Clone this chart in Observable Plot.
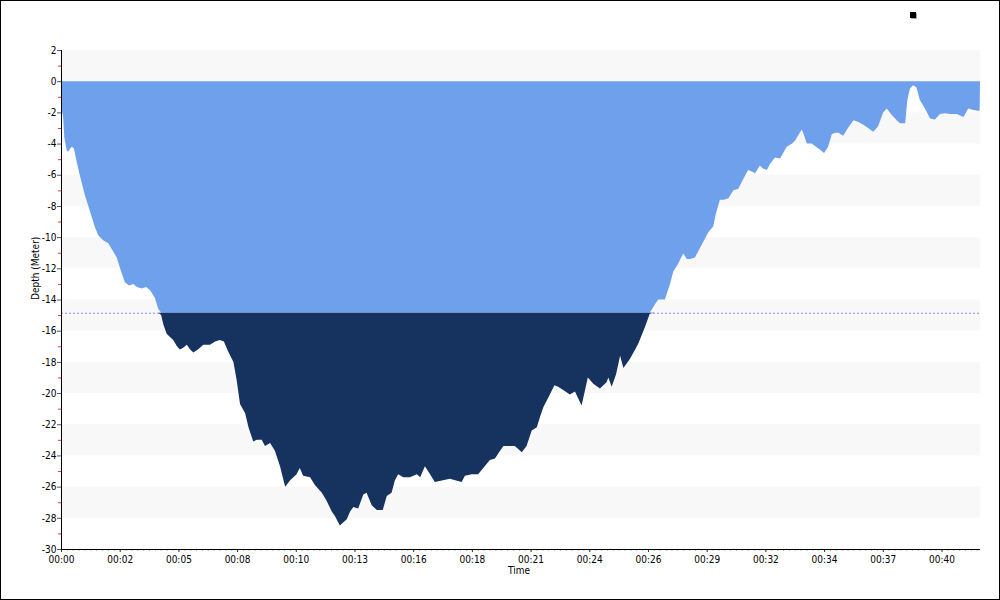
<!DOCTYPE html>
<html><head><meta charset="utf-8">
<script src="https://cdn.jsdelivr.net/npm/d3@7"></script>
<script src="https://cdn.jsdelivr.net/npm/@observablehq/plot@0.6"></script>
<style>
html,body{margin:0;padding:0;background:#fff;}
#frame{position:relative;width:998px;height:598px;border:1px solid #000;background:#fff;overflow:hidden;}
#frame svg{display:block;}
#legend{position:absolute;left:909px;top:11px;width:6px;height:6px;background:#000;box-shadow:1px 1px 0 #aaa;}
</style></head><body><div id="frame"><div id="legend"></div></div>
<script>
// elapsed time (seconds) and depth (meters)
const timesSec = [0,1,6,9,16,20,29,35,43,52,65,77,93,102,115,129,139,152,161,174,185,197,207,220,232,243,256,265,273,279,288,297,306,316,324,333,343,352,361,373,388,406,420,433,444,455,470,479,488,502,511,524,534,547,556,570,583,597,611,624,642,651,660,679,692,711,724,738,747,760,769,779,788,797,810,824,833,847,861,877,888,901,910,919,933,951,970,979,992,1006,1019,1038,1060,1077,1092,1101,1120,1137,1151,1169,1183,1194,1206,1221,1237,1256,1269,1283,1297,1306,1315,1328,1345,1355,1369,1387,1401,1409,1419,1436,1451,1469,1487,1492,1501,1513,1524,1533,1551,1565,1574,1592,1605,1619,1628,1646,1660,1669,1682,1696,1706,1715,1728,1746,1764,1778,1785,1796,1807,1819,1833,1846,1859,1873,1884,1892,1905,1913,1924,1933,1946,1960,1978,1993,2001,2019,2023,2033,2046,2058,2069,2080,2091,2101,2110,2119,2132,2145,2160,2172,2187,2200,2214,2227,2241,2251,2262,2278,2287,2301,2307,2314,2323,2332,2341,2355,2369,2382,2396,2410,2423,2441,2460,2473,2487,2500,2504,2505];
const depths = [0,-1.7,-2.3,-3.6,-4.5,-4.5,-4.2,-4.3,-5.2,-6.1,-7.3,-8.2,-9.4,-9.9,-10.2,-10.4,-10.8,-11.3,-12.0,-12.9,-13.1,-13.0,-13.2,-13.3,-13.2,-13.4,-13.9,-14.6,-15.0,-15.6,-16.2,-16.4,-16.6,-17.0,-17.2,-17.1,-16.9,-17.2,-17.4,-17.2,-16.9,-16.9,-16.7,-16.6,-16.7,-17.3,-18.0,-19.2,-20.7,-21.3,-22.2,-23.1,-23.0,-23.0,-23.4,-23.2,-23.7,-24.7,-26.0,-25.6,-25.2,-24.8,-25.3,-25.4,-25.9,-26.4,-26.9,-27.6,-27.9,-28.5,-28.3,-28.1,-27.6,-27.3,-27.4,-26.5,-26.4,-27.2,-27.5,-27.5,-26.6,-26.4,-25.6,-25.2,-25.4,-25.4,-25.2,-25.4,-24.7,-25.2,-25.7,-25.6,-25.5,-25.6,-25.7,-25.3,-25.2,-25.2,-24.8,-24.3,-24.2,-23.8,-23.4,-23.4,-23.4,-23.8,-23.4,-22.4,-22.2,-21.5,-20.9,-20.3,-19.5,-19.6,-19.8,-20.1,-19.9,-20.3,-20.8,-19.0,-19.4,-19.7,-19.3,-19.0,-19.6,-18.8,-17.6,-18.4,-17.8,-17.2,-16.8,-15.75,-14.9,-14.3,-14.0,-14.0,-13.0,-12.2,-11.7,-11.05,-11.4,-11.4,-11.3,-10.5,-9.7,-9.3,-8.5,-7.6,-7.6,-7.5,-7.0,-6.9,-6.3,-5.7,-5.8,-5.9,-5.4,-5.6,-5.7,-5.3,-4.9,-4.95,-4.2,-4.0,-3.8,-3.1,-3.3,-4.0,-4.0,-4.2,-4.4,-4.6,-4.2,-3.4,-3.3,-3.3,-3.5,-3.0,-2.5,-2.6,-2.8,-3.0,-3.25,-2.9,-2.0,-1.75,-2.1,-2.5,-2.7,-2.7,-1.2,-0.47,-0.26,-0.4,-1.2,-1.75,-2.4,-2.45,-2.1,-2.05,-2.1,-2.1,-2.3,-1.75,-1.85,-1.9,-1.9,0];
const threshold = -14.85;
const xDomain = [0, 2505];
const yDomain = [-30, 2];
const xTicks = [0,160,320,480,640,800,960,1120,1280,1440,1600,1760,1920,2080,2240,2400];
const xTickLabels = ["00:00","00:02","00:05","00:08","00:10","00:13","00:16","00:18","00:21","00:24","00:26","00:29","00:32","00:34","00:37","00:40"];
const yTicks = [2,0,-2,-4,-6,-8,-10,-12,-14,-16,-18,-20,-22,-24,-26,-28,-30];
const yMinorTicks = [1,-1,-3,-5,-7,-9,-11,-13,-15,-17,-19,-21,-23,-25,-27,-29];
const bandTops = [2,-2,-6,-10,-14,-18,-22,-26];

const data = timesSec.map((t, i) => ({t, d: depths[i]}));
const bands = bandTops.map(top => ({x1: xDomain[0], x2: xDomain[1], y1: top, y2: top - 2}));
const xMinor = d3.range(0, xDomain[1], 16);
const font = "'DejaVu Sans Condensed', 'DejaVu Sans', sans-serif";

const chart = Plot.plot({
  width: 998, height: 598,
  marginLeft: 60, marginRight: 19, marginTop: 49, marginBottom: 50,
  style: {fontFamily: font, fontSize: "10px", color: "#000", background: "transparent"},
  x: {domain: xDomain},
  y: {domain: yDomain},
  marks: [
    Plot.rect(bands, {x1: "x1", x2: "x2", y1: "y1", y2: "y2", fill: "#f8f8f8"}),
    Plot.ruleY([threshold], {stroke: "#8c8cf2", strokeDasharray: "2,2", strokeWidth: 1.2}),
    Plot.areaY(data, {x: "t", y1: 0, y2: d => Math.max(d.d, threshold), fill: "#6fa0ec"}),
    Plot.areaY(data, {x: "t", y1: threshold, y2: d => Math.min(d.d, threshold), fill: "#16325f"}),
    Plot.axisX({ticks: xMinor, tickSize: 2, stroke: "#b0b0b0", tickFormat: () => ""}),
    Plot.axisX({ticks: xTicks, tickSize: 3, tickPadding: 3, stroke: "#333", tickFormat: d => xTickLabels[xTicks.indexOf(d)], label: null}),
    Plot.axisY({ticks: yMinorTicks, tickSize: 3, stroke: "#e33", tickFormat: () => "", label: null}),
    Plot.axisY({ticks: yTicks, tickSize: 4, tickPadding: 1, stroke: "#555", tickFormat: d => String(d), label: null}),
    Plot.ruleX([0], {stroke: "#000"}),
    Plot.ruleY([-30], {stroke: "#000"}),
    Plot.text(["Depth (Meter)"], {frameAnchor: "left", dx: -26, rotate: -90, fontSize: 10}),
    Plot.text(["Time"], {frameAnchor: "bottom", lineAnchor: "middle", dy: 21, dx: -2, fontSize: 10})
  ]
});
document.getElementById("frame").appendChild(chart);
</script>
</body></html>
